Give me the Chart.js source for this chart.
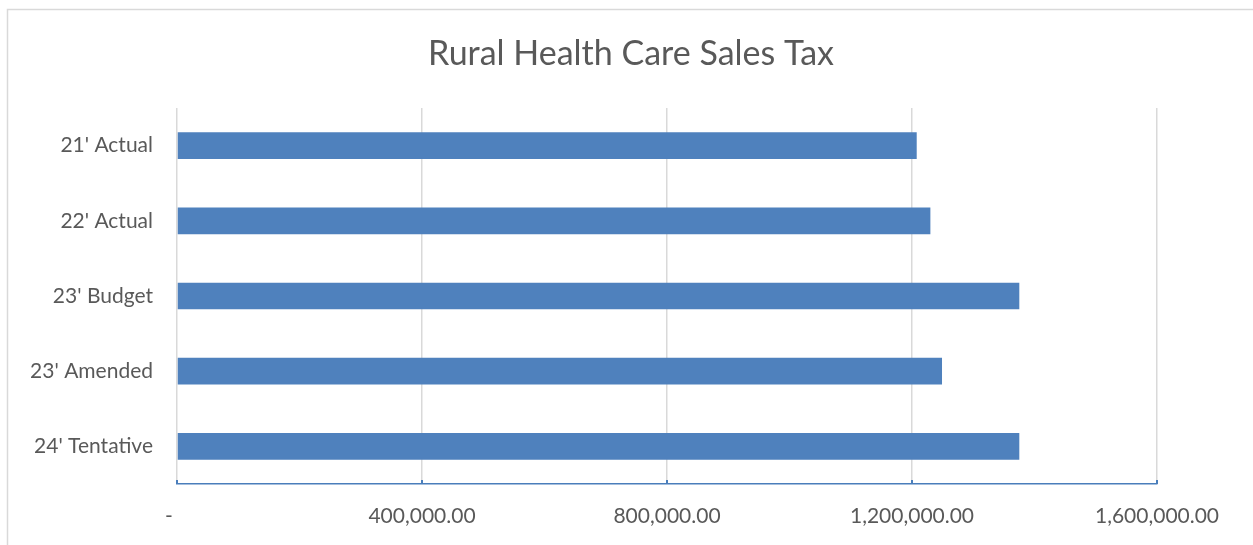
<!DOCTYPE html>
<html>
<head>
<meta charset="utf-8">
<script src="https://cdn.jsdelivr.net/npm/chart.js@4.4.0/dist/chart.umd.min.js"></script>
<style>
  html, body { margin: 0; padding: 0; background: #fff; }
  #wrap { width: 1253px; height: 545px; position: relative; }
</style>
</head>
<body>
<div id="wrap"><canvas id="taxChart"></canvas></div>
<script>
const chartTitle = 'Rural Health Care Sales Tax';
const categories = ["21' Actual", "22' Actual", "23' Budget", "23' Amended", "24' Tentative"];
const salesTax = [1207700, 1230000, 1375200, 1249000, 1375200];
const tickValues = [0, 400000, 800000, 1200000, 1600000];

function formatAmount(value) {
    if (value === 0) return '-   ';
    return value.toLocaleString('en-US', { minimumFractionDigits: 2, maximumFractionDigits: 2 });
}

// outer chart border, title (centred on the whole frame) and small blue tick marks
const chartFrame = {
    id: 'chartFrame',
    beforeDraw(chart) {
        const ctx = chart.ctx;
        ctx.save();
        ctx.strokeStyle = '#d9d9d9';
        ctx.lineWidth = 1.5;
        ctx.strokeRect(7.5, 9.5, 1260, 560);
        ctx.fillStyle = '#595959';
        ctx.font = '34px Lato';
        ctx.textAlign = 'center';
        ctx.textBaseline = 'alphabetic';
        ctx.fillText(chartTitle, 631, 65);
        ctx.restore();
    },
    afterDraw(chart) {
        const ctx = chart.ctx;
        const x = chart.scales.x;
        const bottom = chart.chartArea.bottom;
        ctx.save();
        ctx.strokeStyle = '#4a7ebb';
        ctx.lineWidth = 2;
        tickValues.forEach(v => {
            const px = Math.round(x.getPixelForValue(v));
            ctx.beginPath();
            ctx.moveTo(px, bottom);
            ctx.lineTo(px, bottom - 4);
            ctx.stroke();
        });
        ctx.restore();
    }
};

const ctx = document.getElementById('taxChart').getContext('2d');
new Chart(ctx, {
    type: 'bar',
    data: {
        labels: categories,
        datasets: [{
            label: chartTitle,
            data: salesTax,
            backgroundColor: '#4f81bd',
            borderWidth: 0,
            categoryPercentage: 1,
            barPercentage: 0.355
        }]
    },
    options: {
        indexAxis: 'y',
        responsive: true,
        maintainAspectRatio: false,
        animation: false,
        layout: { padding: { left: 0, right: 96, top: 108, bottom: 0 } },
        scales: {
            x: {
                min: 0,
                max: 1600000,
                afterBuildTicks: scale => { scale.ticks = tickValues.map(v => ({ value: v })); },
                afterFit: scale => { scale.height = 61; },
                grid: { color: '#d9d9d9', lineWidth: 1.5, drawTicks: false },
                border: { display: true, color: '#4a7ebb', width: 1.5 },
                ticks: {
                    padding: 20,
                    maxRotation: 0,
                    color: '#595959',
                    font: { family: 'Lato', size: 21 },
                    callback: value => formatAmount(value)
                }
            },
            y: {
                afterFit: scale => { scale.width = 177; },
                grid: { display: false, drawTicks: false },
                border: { display: false },
                ticks: {
                    padding: 24,
                    color: '#595959',
                    font: { family: 'Lato', size: 21 }
                }
            }
        },
        plugins: {
            legend: { display: false },
            tooltip: { enabled: false },
            title: { display: false }
        }
    },
    plugins: [chartFrame]
});
</script>
</body>
</html>
